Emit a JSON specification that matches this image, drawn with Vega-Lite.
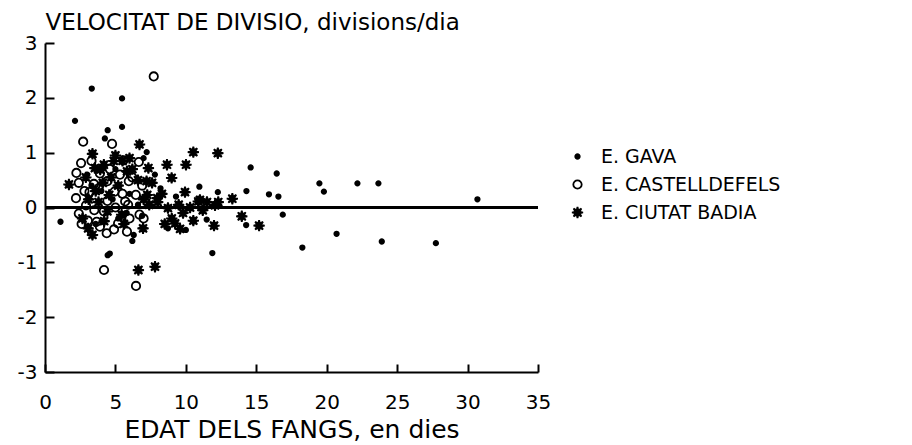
{
  "$schema": "https://vega.github.io/schema/vega-lite/v6.json",
  "width": 493,
  "height": 329,
  "autosize": "none",
  "padding": {"left": 45, "top": 43, "right": 374, "bottom": 73},
  "background": "white",
  "config": {
    "view": {"stroke": null},
    "font": "DejaVu Sans",
    "axis": {
      "grid": false,
      "domainColor": "black",
      "domainWidth": 2,
      "tickColor": "black",
      "tickWidth": 2,
      "labelColor": "black",
      "titleColor": "black",
      "labelFont": "DejaVu Sans",
      "titleFont": "DejaVu Sans",
      "titleFontWeight": "normal"
    },
    "legend": {
      "labelFont": "DejaVu Sans",
      "labelColor": "black"
    }
  },
  "datasets": {
    "pts": [
      {"g": "E. GAVA", "x": 1.1, "y": -0.26},
      {"g": "E. GAVA", "x": 2.13, "y": 1.58},
      {"g": "E. GAVA", "x": 3.32, "y": 2.17},
      {"g": "E. GAVA", "x": 5.47, "y": 1.99},
      {"g": "E. GAVA", "x": 5.47, "y": 1.47},
      {"g": "E. GAVA", "x": 4.45, "y": 1.41},
      {"g": "E. GAVA", "x": 4.25, "y": 1.26},
      {"g": "E. GAVA", "x": 7.22, "y": 1.01},
      {"g": "E. GAVA", "x": 4.45, "y": -0.87},
      {"g": "E. GAVA", "x": 4.6, "y": -0.84},
      {"g": "E. GAVA", "x": 6.2, "y": -0.61},
      {"g": "E. GAVA", "x": 6.3, "y": -0.5},
      {"g": "E. GAVA", "x": 8.73, "y": -0.38},
      {"g": "E. GAVA", "x": 10.0, "y": -0.41},
      {"g": "E. GAVA", "x": 10.96, "y": 0.38},
      {"g": "E. GAVA", "x": 12.27, "y": 0.28},
      {"g": "E. GAVA", "x": 11.88, "y": -0.83},
      {"g": "E. GAVA", "x": 14.3, "y": 0.3},
      {"g": "E. GAVA", "x": 14.28, "y": -0.32},
      {"g": "E. GAVA", "x": 14.6, "y": 0.73},
      {"g": "E. GAVA", "x": 15.9, "y": 0.24},
      {"g": "E. GAVA", "x": 16.45, "y": 0.62},
      {"g": "E. GAVA", "x": 16.57, "y": 0.2},
      {"g": "E. GAVA", "x": 16.88, "y": -0.13},
      {"g": "E. GAVA", "x": 18.27, "y": -0.73},
      {"g": "E. GAVA", "x": 19.48, "y": 0.44},
      {"g": "E. GAVA", "x": 19.8, "y": 0.29},
      {"g": "E. GAVA", "x": 20.7, "y": -0.48},
      {"g": "E. GAVA", "x": 22.18, "y": 0.44},
      {"g": "E. GAVA", "x": 23.67, "y": 0.44},
      {"g": "E. GAVA", "x": 23.91, "y": -0.62},
      {"g": "E. GAVA", "x": 27.75, "y": -0.65},
      {"g": "E. GAVA", "x": 30.7, "y": 0.15},
      {"g": "E. GAVA", "x": 11.48, "y": -0.22},
      {"g": "E. GAVA", "x": 3.0, "y": 0.6},
      {"g": "E. GAVA", "x": 4.0, "y": 0.3},
      {"g": "E. GAVA", "x": 5.0, "y": 0.7},
      {"g": "E. GAVA", "x": 6.0, "y": 0.25},
      {"g": "E. GAVA", "x": 7.0, "y": 0.9},
      {"g": "E. GAVA", "x": 5.8, "y": -0.1},
      {"g": "E. GAVA", "x": 3.6, "y": -0.3},
      {"g": "E. GAVA", "x": 8.2, "y": 0.35},
      {"g": "E. GAVA", "x": 9.3, "y": 0.2},
      {"g": "E. GAVA", "x": 4.8, "y": 0.15},
      {"g": "E. GAVA", "x": 6.6, "y": 0.05},
      {"g": "E. GAVA", "x": 7.8, "y": 0.6},
      {"g": "E. GAVA", "x": 3.3, "y": 0.4},
      {"g": "E. GAVA", "x": 5.2, "y": -0.2},
      {"g": "E. GAVA", "x": 6.9, "y": -0.15},
      {"g": "E. CASTELLDEFELS", "x": 7.72, "y": 2.39},
      {"g": "E. CASTELLDEFELS", "x": 2.71, "y": 1.2},
      {"g": "E. CASTELLDEFELS", "x": 4.76, "y": 1.16},
      {"g": "E. CASTELLDEFELS", "x": 2.56, "y": 0.81},
      {"g": "E. CASTELLDEFELS", "x": 2.23, "y": 0.63},
      {"g": "E. CASTELLDEFELS", "x": 3.47, "y": 0.43},
      {"g": "E. CASTELLDEFELS", "x": 3.16, "y": 0.28},
      {"g": "E. CASTELLDEFELS", "x": 2.2, "y": 0.17},
      {"g": "E. CASTELLDEFELS", "x": 2.91, "y": 0.04},
      {"g": "E. CASTELLDEFELS", "x": 2.4, "y": -0.11},
      {"g": "E. CASTELLDEFELS", "x": 3.04, "y": -0.24},
      {"g": "E. CASTELLDEFELS", "x": 3.67, "y": -0.26},
      {"g": "E. CASTELLDEFELS", "x": 4.38, "y": -0.47},
      {"g": "E. CASTELLDEFELS", "x": 4.18, "y": -0.07},
      {"g": "E. CASTELLDEFELS", "x": 4.43, "y": 0.12},
      {"g": "E. CASTELLDEFELS", "x": 4.43, "y": 0.48},
      {"g": "E. CASTELLDEFELS", "x": 5.57, "y": 0.86},
      {"g": "E. CASTELLDEFELS", "x": 6.66, "y": 0.83},
      {"g": "E. CASTELLDEFELS", "x": 5.19, "y": -0.29},
      {"g": "E. CASTELLDEFELS", "x": 5.82, "y": -0.44},
      {"g": "E. CASTELLDEFELS", "x": 6.71, "y": -0.13},
      {"g": "E. CASTELLDEFELS", "x": 5.69, "y": 0.11},
      {"g": "E. CASTELLDEFELS", "x": 6.45, "y": 0.23},
      {"g": "E. CASTELLDEFELS", "x": 4.94, "y": 0.29},
      {"g": "E. CASTELLDEFELS", "x": 5.95, "y": 0.48},
      {"g": "E. CASTELLDEFELS", "x": 5.32, "y": 0.6},
      {"g": "E. CASTELLDEFELS", "x": 4.19, "y": -1.14},
      {"g": "E. CASTELLDEFELS", "x": 6.46, "y": -1.43},
      {"g": "E. CASTELLDEFELS", "x": 3.9, "y": 0.62},
      {"g": "E. CASTELLDEFELS", "x": 2.8, "y": 0.3},
      {"g": "E. CASTELLDEFELS", "x": 3.5, "y": -0.05},
      {"g": "E. CASTELLDEFELS", "x": 5.0, "y": 0.0},
      {"g": "E. CASTELLDEFELS", "x": 6.0, "y": -0.2},
      {"g": "E. CASTELLDEFELS", "x": 2.4, "y": 0.45},
      {"g": "E. CASTELLDEFELS", "x": 3.3, "y": 0.85},
      {"g": "E. CASTELLDEFELS", "x": 3.8, "y": 0.35},
      {"g": "E. CASTELLDEFELS", "x": 4.6, "y": 0.7},
      {"g": "E. CASTELLDEFELS", "x": 5.5, "y": 0.25},
      {"g": "E. CASTELLDEFELS", "x": 6.2, "y": 0.55},
      {"g": "E. CASTELLDEFELS", "x": 6.9, "y": 0.4},
      {"g": "E. CASTELLDEFELS", "x": 7.0, "y": -0.2},
      {"g": "E. CASTELLDEFELS", "x": 4.9, "y": -0.4},
      {"g": "E. CASTELLDEFELS", "x": 2.6, "y": -0.3},
      {"g": "E. CASTELLDEFELS", "x": 3.9, "y": -0.35},
      {"g": "E. CASTELLDEFELS", "x": 5.9, "y": 0.05},
      {"g": "E. CIUTAT BADIA", "x": 1.7, "y": 0.42},
      {"g": "E. CIUTAT BADIA", "x": 3.37, "y": 0.98},
      {"g": "E. CIUTAT BADIA", "x": 3.54, "y": 0.72},
      {"g": "E. CIUTAT BADIA", "x": 4.18, "y": 0.78},
      {"g": "E. CIUTAT BADIA", "x": 4.88, "y": 0.85},
      {"g": "E. CIUTAT BADIA", "x": 3.92, "y": 0.69},
      {"g": "E. CIUTAT BADIA", "x": 3.37, "y": -0.5},
      {"g": "E. CIUTAT BADIA", "x": 3.06, "y": -0.38},
      {"g": "E. CIUTAT BADIA", "x": 4.56, "y": 0.23},
      {"g": "E. CIUTAT BADIA", "x": 4.43, "y": -0.07},
      {"g": "E. CIUTAT BADIA", "x": 5.82, "y": 0.66},
      {"g": "E. CIUTAT BADIA", "x": 6.71, "y": 1.15},
      {"g": "E. CIUTAT BADIA", "x": 6.96, "y": -0.38},
      {"g": "E. CIUTAT BADIA", "x": 7.26, "y": 0.23},
      {"g": "E. CIUTAT BADIA", "x": 7.97, "y": 0.17},
      {"g": "E. CIUTAT BADIA", "x": 7.34, "y": 0.72},
      {"g": "E. CIUTAT BADIA", "x": 7.21, "y": 0.48},
      {"g": "E. CIUTAT BADIA", "x": 6.63, "y": -1.14},
      {"g": "E. CIUTAT BADIA", "x": 7.81, "y": -1.08},
      {"g": "E. CIUTAT BADIA", "x": 8.66, "y": 0.78},
      {"g": "E. CIUTAT BADIA", "x": 8.99, "y": 0.54},
      {"g": "E. CIUTAT BADIA", "x": 8.73, "y": -0.01},
      {"g": "E. CIUTAT BADIA", "x": 9.24, "y": -0.29},
      {"g": "E. CIUTAT BADIA", "x": 9.49, "y": 0.05},
      {"g": "E. CIUTAT BADIA", "x": 10.01, "y": 0.78},
      {"g": "E. CIUTAT BADIA", "x": 9.94, "y": 0.28},
      {"g": "E. CIUTAT BADIA", "x": 10.53, "y": 1.01},
      {"g": "E. CIUTAT BADIA", "x": 10.88, "y": 0.11},
      {"g": "E. CIUTAT BADIA", "x": 11.0, "y": 0.14},
      {"g": "E. CIUTAT BADIA", "x": 10.53, "y": -0.24},
      {"g": "E. CIUTAT BADIA", "x": 12.27, "y": 0.99},
      {"g": "E. CIUTAT BADIA", "x": 12.07, "y": 0.04},
      {"g": "E. CIUTAT BADIA", "x": 12.0, "y": -0.33},
      {"g": "E. CIUTAT BADIA", "x": 13.3, "y": 0.16},
      {"g": "E. CIUTAT BADIA", "x": 13.97, "y": -0.16},
      {"g": "E. CIUTAT BADIA", "x": 15.2, "y": -0.33},
      {"g": "E. CIUTAT BADIA", "x": 9.59, "y": -0.39},
      {"g": "E. CIUTAT BADIA", "x": 2.66, "y": -0.2},
      {"g": "E. CIUTAT BADIA", "x": 5.44, "y": -0.13},
      {"g": "E. CIUTAT BADIA", "x": 6.2, "y": 0.7},
      {"g": "E. CIUTAT BADIA", "x": 5.2, "y": 0.4},
      {"g": "E. CIUTAT BADIA", "x": 3.8, "y": 0.1},
      {"g": "E. CIUTAT BADIA", "x": 8.0, "y": 0.1},
      {"g": "E. CIUTAT BADIA", "x": 9.0, "y": -0.2},
      {"g": "E. CIUTAT BADIA", "x": 12.3, "y": 0.1},
      {"g": "E. CIUTAT BADIA", "x": 11.5, "y": 0.1},
      {"g": "E. CIUTAT BADIA", "x": 7.6, "y": 0.45},
      {"g": "E. CIUTAT BADIA", "x": 5.0, "y": 0.95},
      {"g": "E. CIUTAT BADIA", "x": 2.9, "y": 0.55},
      {"g": "E. CIUTAT BADIA", "x": 3.1, "y": 0.15},
      {"g": "E. CIUTAT BADIA", "x": 4.1, "y": 0.45},
      {"g": "E. CIUTAT BADIA", "x": 4.7, "y": 0.55},
      {"g": "E. CIUTAT BADIA", "x": 5.5, "y": 0.85},
      {"g": "E. CIUTAT BADIA", "x": 6.0, "y": 0.9},
      {"g": "E. CIUTAT BADIA", "x": 6.6, "y": 0.5},
      {"g": "E. CIUTAT BADIA", "x": 7.4, "y": 0.05},
      {"g": "E. CIUTAT BADIA", "x": 8.3, "y": 0.25},
      {"g": "E. CIUTAT BADIA", "x": 8.5, "y": -0.3},
      {"g": "E. CIUTAT BADIA", "x": 5.6, "y": -0.3},
      {"g": "E. CIUTAT BADIA", "x": 4.2, "y": -0.25},
      {"g": "E. CIUTAT BADIA", "x": 3.6, "y": 0.3},
      {"g": "E. CIUTAT BADIA", "x": 7.0, "y": 0.15},
      {"g": "E. CIUTAT BADIA", "x": 9.8, "y": -0.1},
      {"g": "E. CIUTAT BADIA", "x": 10.3, "y": 0.0},
      {"g": "E. CIUTAT BADIA", "x": 11.2, "y": -0.05}
    ]
  },
  "data": {"name": "pts"},
  "encoding": {
    "x": {
      "field": "x",
      "type": "quantitative",
      "scale": {"domain": [0, 35], "nice": false, "zero": false},
      "axis": {
        "values": [0, 5, 10, 15, 20, 25, 30, 35],
        "tickSize": -8,
        "labelPadding": 44,
        "labelBaseline": "alphabetic",
        "labelFontSize": 20,
        "labelFlush": false,
        "title": "EDAT DELS FANGS, en dies",
        "titleFontSize": 25,
        "titleBaseline": "alphabetic",
        "titleX": 246.5,
        "titleY": 65
      }
    },
    "y": {
      "field": "y",
      "type": "quantitative",
      "scale": {"domain": [-3, 3], "nice": false, "zero": false},
      "axis": {
        "values": [-3, -2, -1, 0, 1, 2, 3],
        "tickSize": -9,
        "labelPadding": 17,
        "labelFontSize": 20,
        "labelFlush": false,
        "labelExpr": "datum.value < 0 ? '-' + abs(datum.value) : '' + datum.value",
        "title": "VELOCITAT DE DIVISIO, divisions/dia",
        "titleFontSize": 23,
        "titleAngle": 0,
        "titleAlign": "left",
        "titleBaseline": "alphabetic",
        "titleX": 0,
        "titleY": -14
      }
    }
  },
  "layer": [
    {
      "mark": {"type": "rule", "color": "black", "strokeWidth": 2},
      "encoding": {"y": {"datum": 0, "type": "quantitative"}, "x": {"datum": 0, "type": "quantitative"}, "x2": {"datum": 35}}
    },
    {
      "mark": {"type": "point", "filled": true, "stroke": "black", "strokeWidth": 1.8, "opacity": 1},
      "encoding": {
        "shape": {
          "field": "g",
          "type": "nominal",
          "scale": {
            "domain": ["E. GAVA", "E. CASTELLDEFELS", "E. CIUTAT BADIA"],
            "range": ["circle", "circle", "M0,-1L0.153,-0.37L0.707,-0.707L0.37,-0.153L1,0L0.37,0.153L0.707,0.707L0.153,0.37L0,1L-0.153,0.37L-0.707,0.707L-0.37,0.153L-1,0L-0.37,-0.153L-0.707,-0.707L-0.153,-0.37Z"]
          },
          "legend": {
            "title": null,
            "orient": "none",
            "legendX": 523,
            "legendY": 104,
            "padding": 0,
            "labelFontSize": 19,
            "labelOffset": 14,
            "labelLimit": 400,
            "rowPadding": 8,
            "symbolStrokeColor": "black",
            "symbolStrokeWidth": 1.8
          }
        },
        "fill": {
          "field": "g",
          "type": "nominal",
          "scale": {
            "domain": ["E. GAVA", "E. CASTELLDEFELS", "E. CIUTAT BADIA"],
            "range": ["black", "transparent", "black"]
          }
        },
        "size": {
          "field": "g",
          "type": "nominal",
          "scale": {
            "domain": ["E. GAVA", "E. CASTELLDEFELS", "E. CIUTAT BADIA"],
            "range": [20, 120, 220]
          }
        }
      }
    }
  ]
}
